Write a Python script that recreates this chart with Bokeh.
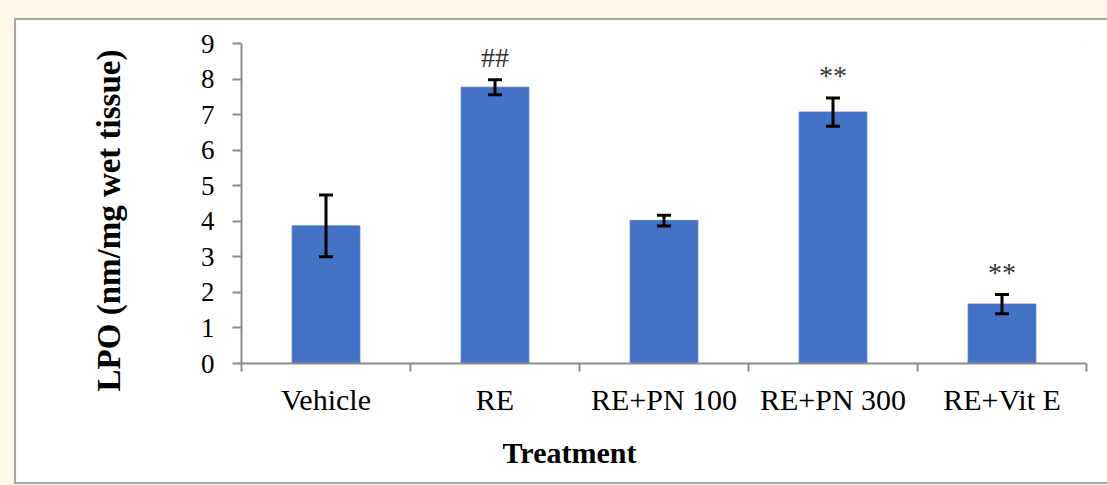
import numpy as np
from bokeh.plotting import figure
from bokeh.models import (ColumnDataSource, Range1d, FixedTicker, Whisker, TeeHead,
                          Label, GlobalInlineStyleSheet)
from bokeh.core.properties import value
from bokeh.embed import file_html
from bokeh.resources import INLINE

# ---------------- data ----------------
categories = ["Vehicle", "RE", "RE+PN 100", "RE+PN 300", "RE+Vit E"]
lpo_mean = [3.87, 7.77, 4.02, 7.07, 1.67]
lpo_err = [0.87, 0.21, 0.15, 0.40, 0.27]
significance = ["", "##", "", "**", "**"]
y_ticks = [0, 1, 2, 3, 4, 5, 6, 7, 8, 9]
y_title = "LPO (nm/mg wet tissue)"
x_title = "Treatment"

# ---------------- layout / style ----------------
OX, OY = 16, 20                 # page position of the white panel's canvas
W, H = 1091, 462
FL, FR, FT, FB = 225, 1070, 23, 343          # plot frame in canvas px
CREAM = "#fef9e7"
BAR = "#4472C4"
AXIS = "#8c8c8c"
FONT = "Liberation Serif"
n = len(categories)
ymax = y_ticks[-1]


def dx(page_x):
    return (page_x - OX - FL) / (FR - FL) * n


def dy(page_y):
    return (FB - (page_y - OY)) / (FB - FT) * ymax


xs = np.arange(n) + 0.5
src = ColumnDataSource(dict(
    x=xs, top=lpo_mean,
    upper=np.array(lpo_mean) + np.array(lpo_err),
    lower=np.array(lpo_mean) - np.array(lpo_err),
    sig=significance,
))

p = figure(width=W, height=H, output_backend="svg", toolbar_location=None,
           x_range=Range1d(0, n), y_range=Range1d(0, ymax),
           min_border_left=FL, min_border_right=W - FR,
           min_border_top=FT, min_border_bottom=H - FB)
p.border_fill_color = "white"
p.background_fill_color = "white"
p.outline_line_color = None
p.xgrid.visible = False
p.ygrid.visible = False
p.stylesheets = [GlobalInlineStyleSheet(
    css=f"html, body {{ background: {CREAM}; overflow: hidden; }}")]
p.styles = {
    "margin-left": f"{OX}px",
    "margin-top": f"{OY}px",
    "outline": "2px solid #a6a6a6",
}

p.vbar(x="x", top="top", width=0.4, source=src, fill_color=BAR, line_color=BAR)

wh = Whisker(base="x", upper="upper", lower="lower", source=src,
             line_color="black", line_width=3, level="overlay",
             upper_head=TeeHead(size=14, line_width=3, line_color="black"),
             lower_head=TeeHead(size=14, line_width=3, line_color="black"))
p.add_layout(wh)

p.text(x="x", y="upper", text="sig", source=src, text_align="center",
       text_baseline="bottom", y_offset=-7, text_color="#333333",
       text_font=value(FONT), text_font_size="28px")

# y axis
ya = p.yaxis[0]
ya.ticker = FixedTicker(ticks=y_ticks)
ya.axis_line_color = AXIS
ya.axis_line_width = 2
ya.major_tick_line_color = AXIS
ya.major_tick_line_width = 2
ya.major_tick_out = 9
ya.major_tick_in = 0
ya.minor_tick_line_color = None
ya.major_label_text_font = FONT
ya.major_label_text_font_size = "27px"
ya.major_label_text_color = "black"
ya.major_label_standoff = 18

# x axis
xa = p.xaxis[0]
xa.ticker = FixedTicker(ticks=list(xs), minor_ticks=list(range(n + 1)))
xa.major_label_overrides = {float(x): c for x, c in zip(xs, categories)}
xa.axis_line_color = AXIS
xa.axis_line_width = 2
xa.major_tick_line_color = None
xa.major_tick_out = 0
xa.major_tick_in = 0
xa.minor_tick_line_color = AXIS
xa.minor_tick_line_width = 2
xa.minor_tick_out = 8
xa.minor_tick_in = 0
xa.major_label_text_font = FONT
xa.major_label_text_font_size = "30px"
xa.major_label_text_color = "black"
xa.major_label_standoff = 11

# axis titles (placed in side panels so they are not clipped to the frame)
p.add_layout(Label(x=dx(108.5), y=dy(220), text=y_title, angle=np.pi / 2,
                   text_align="center", text_baseline="middle",
                   text_font=FONT, text_font_size="33px", text_font_style="bold",
                   text_color="black"), "left")
p.add_layout(Label(x=dx(569), y=dy(452), text=x_title,
                   text_align="center", text_baseline="middle",
                   text_font=FONT, text_font_size="30px", text_font_style="bold",
                   text_color="black"), "below")

open("out.html", "w").write(file_html(p, INLINE))
